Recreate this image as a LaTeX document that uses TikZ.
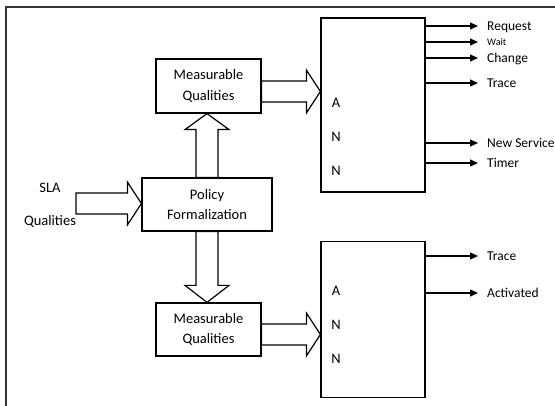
\documentclass[tikz,border=0pt]{standalone}
\usepackage{fontspec}
\setmainfont{Carlito}
\usepackage{tikz}
\usetikzlibrary{calc,positioning,arrows.meta}

\tikzset{
  box/.style={draw, line width=1.2pt, inner sep=0pt, align=center,
    font=\fontsize{14.5}{20.5}\selectfont},
  fat/.style={draw, line width=1.2pt, line join=miter},
  lbl/.style={anchor=west, inner xsep=9pt, inner ysep=0pt, text height=9.5pt,
    text depth=0.5pt, font=\fontsize{13.5}{16}\selectfont},
  letter/.style={inner sep=0pt, font=\fontsize{14.5}{16}\selectfont},
  outarrow/.style={line width=1.2pt, -{Triangle[length=8pt,width=7pt]}},
  frame/.style={line width=1.6pt, black!80}
}

% fat arrow to the right: start, target, shift of the start
\newcommand{\fatright}[3]{%
  \draw[fat] let \p1=($(#1)+(0,#3)$), \p2=(#2) in
    (\x1,\y1+10.5) -- (\x2-14,\y1+10.5) -- (\x2-14,\y1+21.5) -- (\x2,\y1)
    -- (\x2-14,\y1-21.5) -- (\x2-14,\y1-10.5) -- (\x1,\y1-10.5) -- cycle;}
% fat vertical arrow: start, target, signed head length
\newcommand{\fatvert}[3]{%
  \draw[fat] let \p1=(#1), \p2=(#2), \n1={#3} in
    (\x1-11,\y1) -- (\x1-11,\y2-\n1) -- (\x1-22,\y2-\n1) -- (\x1,\y2)
    -- (\x1+22,\y2-\n1) -- (\x1+11,\y2-\n1) -- (\x1+11,\y1) -- cycle;}

\begin{document}
\begin{tikzpicture}[x=1pt, y=-1pt, on grid]
  \useasboundingbox (0,0) rectangle (555,406);
  \draw[frame] (6,412) |- (560,7);

  % boxes
  \node[box, minimum width=130pt, minimum height=53pt] (policy) at (207,204.5)
    {Policy\\Formalization};
  \node[box, minimum width=105pt, minimum height=54pt] (mq1) [above=118.5pt of policy, xshift=1.5pt]
    {Measurable\\Qualities};
  \node[box, minimum width=105pt, minimum height=53pt] (mq2) [below=125pt of policy, xshift=1.5pt]
    {Measurable\\Qualities};
  \node[box, minimum width=104pt, minimum height=174pt] (ann1) at (373,105) {};
  \node[box, minimum width=104pt, minimum height=156pt] (ann2) [below=214.5pt of ann1] {};

  % A N N
  \node[letter] (a1) at (336,103) {A};
  \node[letter] (n1) at (336,137) {N};
  \node[letter] (n2) at (336,171) {N};
  \node[letter] (a2) at (336,291) {A};
  \node[letter] (n3) at (336,325) {N};
  \node[letter] (n4) at (336,359) {N};

  % input
  \node[letter] (sla) at (50,188) {SLA};
  \node[letter] (slaq) at (50,221) {Qualities};
  \coordinate (slain) at (76,203.5);

  % fat arrows
  \fatright{slain}{policy.west}{0}
  \fatright{mq1.east}{ann1.west}{5.5}
  \fatright{mq2.east}{ann2.west}{5}
  \fatvert{policy.north}{mq1.south}{16}
  \fatvert{policy.south}{mq2.north}{-17}

  % outputs
  \node[lbl] (req) at (478,26) {Request};
  \node[lbl, font=\fontsize{10}{12}\selectfont, text height=7pt] (wait) at (478,42) {Wait};
  \node[lbl] (chg) at (478,58) {Change};
  \node[lbl] (trc1) at (478,83) {Trace};
  \node[lbl] (nsv) at (478,143) {New Service};
  \node[lbl] (tmr) at (478,163) {Timer};
  \node[lbl] (trc2) at (478,256) {Trace};
  \node[lbl] (act) at (478,293) {Activated};

  \path[outarrow]
    (ann1.east |- req) edge (req)
    (ann1.east |- wait) edge (wait)
    (ann1.east |- chg) edge (chg)
    (ann1.east |- trc1) edge (trc1)
    (ann1.east |- nsv) edge (nsv)
    (ann1.east |- tmr) edge (tmr)
    (ann2.east |- trc2) edge (trc2)
    (ann2.east |- act) edge (act)
    ;
\end{tikzpicture}
\end{document}
